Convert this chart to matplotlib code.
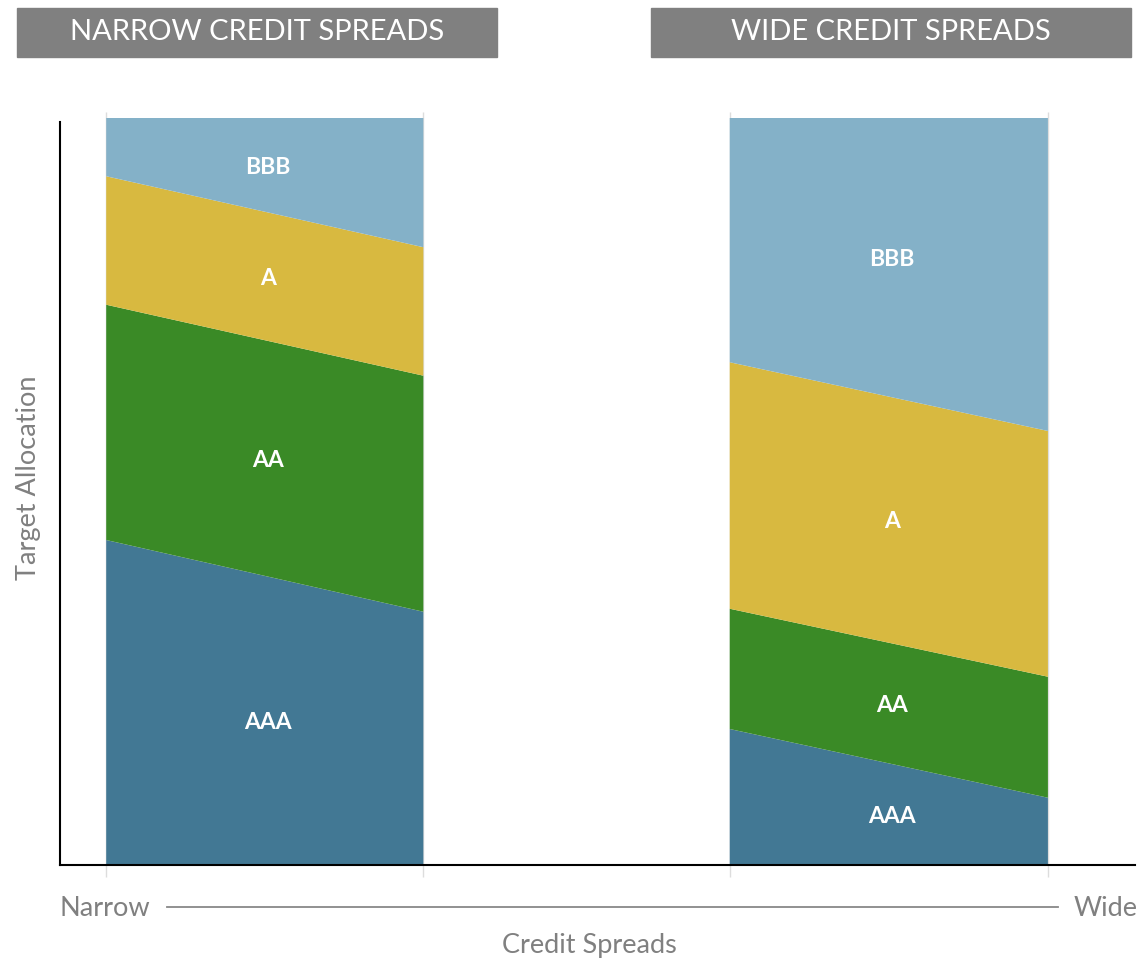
import matplotlib
matplotlib.use("Agg")
import matplotlib.pyplot as plt
import numpy as np
from matplotlib.patches import Rectangle
from matplotlib.lines import Line2D

plt.rcParams['font.family'] = ['Lato', 'DejaVu Sans']

# ratings stacked bottom -> top
ratings = ["AAA", "AA", "A", "BBB"]
colors = ["#427894", "#3a8a26", "#d8b940", "#84b1c8"]

# narrow credit spreads block (x in 0..1 of the spread axis)
narrow_x = [0.043, 0.338]
narrow_aaa = [43.5, 33.9]
narrow_aa = [31.5, 31.6]
narrow_a = [17.2, 17.2]
narrow_bbb = [7.8, 17.3]

# wide credit spreads block
wide_x = [0.623, 0.919]
wide_aaa = [18.2, 9.0]
wide_aa = [16.1, 16.2]
wide_a = [33.0, 32.9]
wide_bbb = [32.7, 41.9]

titles = ["NARROW CREDIT SPREADS", "WIDE CREDIT SPREADS"]

fig = plt.figure(figsize=(11.39, 9.6), dpi=100)
ax = fig.add_axes([60 / 1139, 0.099, 1075 / 1139, 0.7781])

blocks = [(narrow_x, [narrow_aaa, narrow_aa, narrow_a, narrow_bbb]),
          (wide_x, [wide_aaa, wide_aa, wide_a, wide_bbb])]

for xs, layers in blocks:
    ax.stackplot(xs, *layers, colors=colors, linewidth=0)
    # label each band at its middle
    stack = np.cumsum(np.array(layers), axis=0)
    xc = np.mean(xs) + 0.003
    lower = 0.0
    for name, top in zip(ratings, stack):
        top_c = np.mean(top)
        ax.text(xc, (lower + top_c) / 2 - 0.3, name, ha='center', va='center',
                color='white', fontsize=16.5, fontweight='bold')
        lower = top_c
    ax.vlines(xs, -1.6, 100.8, colors='#dddddd', linewidth=1, clip_on=False, zorder=0)

ax.set_xlim(0, 1)
ax.set_ylim(0, 100)
ax.set_xticks([])
ax.set_yticks([])
ax.spines['top'].set_visible(False)
ax.spines['right'].set_visible(False)
ax.spines['left'].set_bounds(0, 99.5)
ax.spines['left'].set_linewidth(1.5)
ax.spines['bottom'].set_linewidth(1.5)

# header boxes
for (x0, x1), t in zip([(17, 497), (651, 1131)], titles):
    fig.add_artist(Rectangle((x0 / 1139, 1 - 57 / 960), (x1 - x0) / 1139, 49 / 960,
                             transform=fig.transFigure, color='#808080'))
    fig.text((x0 + x1) / 2 / 1139, 1 - 32 / 960, t, ha='center', va='center',
             color='white', fontsize=21)

# spread axis
fig.add_artist(Line2D([167 / 1139, 1058 / 1139], [1 - 907 / 960] * 2,
                      transform=fig.transFigure, color='#888888', linewidth=1.3))
fig.text(60 / 1139, 1 - 908 / 960, "Narrow", ha='left', va='center', color='#808080', fontsize=19.5)
fig.text(1138 / 1139, 1 - 908 / 960, "Wide", ha='right', va='center', color='#808080', fontsize=19.5)
fig.text(589 / 1139, 1 - 945 / 960, "Credit Spreads", ha='center', va='center', color='#808080', fontsize=19.5)
fig.text(29 / 1139, 1 - 478 / 960, "Target Allocation", ha='center', va='center',
         rotation=90, color='#808080', fontsize=19.5)

plt.savefig("out.png", dpi=100)
